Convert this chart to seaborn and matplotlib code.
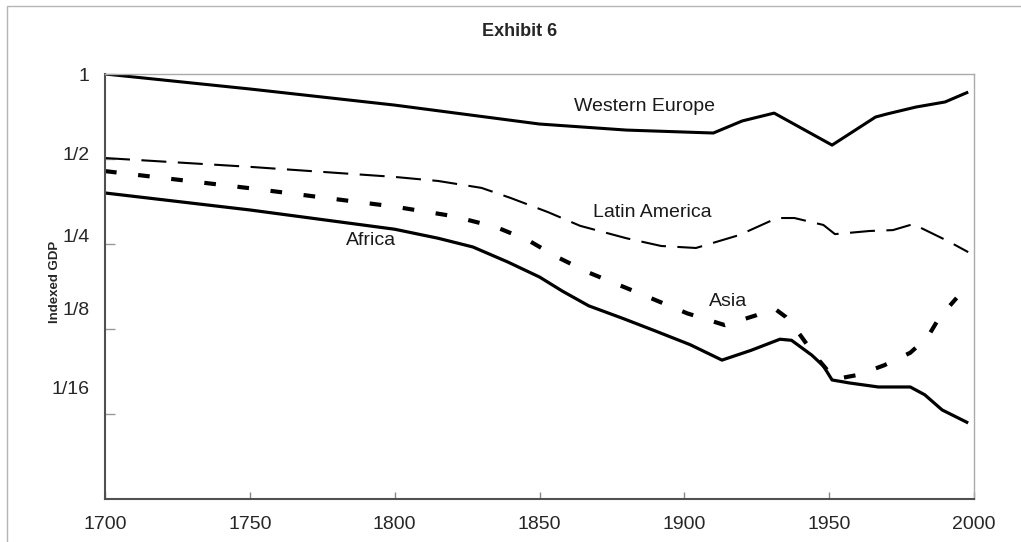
import numpy as np
import pandas as pd
import matplotlib
matplotlib.use("Agg")
import matplotlib.pyplot as plt
import matplotlib.patches as mpatches
import seaborn as sns

# indexed GDP (share of leader)
we_years = [1700, 1750, 1800, 1850, 1880, 1910, 1920, 1931, 1951, 1966, 1970, 1980, 1990, 1998]
we_gdp = [1.0, 0.885, 0.776, 0.665, 0.633, 0.618, 0.682, 0.727, 0.560, 0.704, 0.722, 0.764, 0.796, 0.863]

la_years = [1700, 1750, 1800, 1815, 1830, 1840, 1853, 1864, 1880, 1892, 1904, 1919, 1932, 1938,
            1948, 1952, 1964, 1972, 1979, 1991, 1998]
la_gdp = [0.504, 0.469, 0.432, 0.418, 0.395, 0.364, 0.324, 0.290, 0.262, 0.246, 0.242, 0.269, 0.309, 0.309,
          0.292, 0.271, 0.278, 0.280, 0.294, 0.256, 0.234]

asia_years = [1700, 1750, 1800, 1820, 1835, 1846, 1856, 1867, 1884, 1901, 1914, 1925, 1931, 1935,
              1940, 1945, 1952, 1960, 1969, 1978, 1984, 1988, 1994]
asia_gdp = [0.453, 0.394, 0.339, 0.314, 0.287, 0.258, 0.225, 0.198, 0.168, 0.142, 0.129, 0.140, 0.148, 0.138,
            0.119, 0.101, 0.083, 0.086, 0.093, 0.103, 0.117, 0.137, 0.161]

af_years = [1700, 1750, 1800, 1815, 1827, 1839, 1850, 1858, 1867, 1879, 1890, 1902, 1913, 1923, 1933,
            1937, 1944, 1948, 1951, 1957, 1967, 1978, 1983, 1989, 1998]
af_gdp = [0.379, 0.330, 0.282, 0.262, 0.244, 0.216, 0.191, 0.170, 0.151, 0.136, 0.123, 0.110, 0.097, 0.105, 0.115,
          0.114, 0.101, 0.0925, 0.0825, 0.0805, 0.0779, 0.0779, 0.0731, 0.0646, 0.0581]

x_ticks = [1700, 1750, 1800, 1850, 1900, 1950, 2000]
y_ticks = [1, 1 / 2, 1 / 4, 1 / 8, 1 / 16]
y_labels = ["1", "1/2", "1/4", "1/8", "1/16"]
# the labels sit a bit above their tick marks in the original
y_label_pos = [0.992, 0.525, 0.269, 0.148, 0.0773]

sns.set_style("white")
plt.rcParams["font.family"] = ["Liberation Sans", "DejaVu Sans"]

fig = plt.figure(figsize=(10.21, 5.42), dpi=100)
ax = fig.add_axes([105 / 1021, 43 / 542, 869 / 1021, 425 / 542])

series = [
    (we_years, we_gdp, "", 2.2),
    (la_years, la_gdp, (12, 5.5), 1.5),
    (asia_years, asia_gdp, (2.8, 5.2), 3.0),
    (af_years, af_gdp, "", 2.3),
]
for yrs, vals, dash, lw in series:
    df = pd.DataFrame({"year": yrs, "gdp": vals})
    sns.lineplot(data=df, x="year", y="gdp", ax=ax, color="black", linewidth=lw)
    if dash:
        ax.lines[-1].set_dashes(dash)
    ax.lines[-1].set_solid_capstyle("butt")
    ax.lines[-1].set_dash_capstyle("butt")

ax.set_yscale("log", base=2)
ax.set_xlim(1700, 2000)
ax.set_ylim(1 / 32, 1)

ax.set_xticks(x_ticks)
ax.set_xticklabels([str(t) for t in x_ticks], fontsize=14)
ax.set_yticks(y_ticks)
ax.set_yticklabels([""] * len(y_ticks))
ax.set_yticks(y_label_pos, minor=True)
ax.set_yticklabels(y_labels, minor=True, fontsize=14)
ax.tick_params(axis="y", which="major", left=True, direction="in", length=7, width=1, color="#999999")
ax.tick_params(axis="y", which="minor", left=True, length=0, pad=11)
ax.tick_params(axis="x", which="major", bottom=True, direction="in", length=5, width=1,
               color="#888888", pad=12)
ax.tick_params(axis="x", which="minor", bottom=False)
ax.set_xlabel("")
ax.set_ylabel("")

for side in ["left", "bottom"]:
    ax.spines[side].set_color("#505050")
    ax.spines[side].set_linewidth(1.5)
for side in ["top", "right"]:
    ax.spines[side].set_color("#aaaaaa")
    ax.spines[side].set_linewidth(1.0)

ax.text(1886.4, 0.770, "Western Europe", fontsize=14, ha="center", va="center", color="#1a1a1a")
ax.text(1888.8, 0.322, "Latin America", fontsize=14, ha="center", va="center", color="#1a1a1a")
ax.text(1791.8, 0.258, "Africa", fontsize=14, ha="center", va="center", color="#1a1a1a")
ax.text(1915.0, 0.157, "Asia", fontsize=14, ha="center", va="center", color="#1a1a1a")

fig.text(520 / 1021, 1 - 32 / 542, "Exhibit 6", fontsize=13, fontweight="bold", ha="center", va="center")
fig.text(55 / 1021, 1 - 282 / 542, "Indexed GDP", fontsize=9.5, fontweight="bold", rotation=90,
         ha="center", va="center")

# outer frame, cut off at right and bottom like the original
fig.add_artist(mpatches.Rectangle((7 / 1021, -0.1), 1.2, 1.1 - 6 / 542, transform=fig.transFigure,
                                  fill=False, edgecolor="#b5b5b5", linewidth=1.0))

fig.savefig("out.png", dpi=100)
